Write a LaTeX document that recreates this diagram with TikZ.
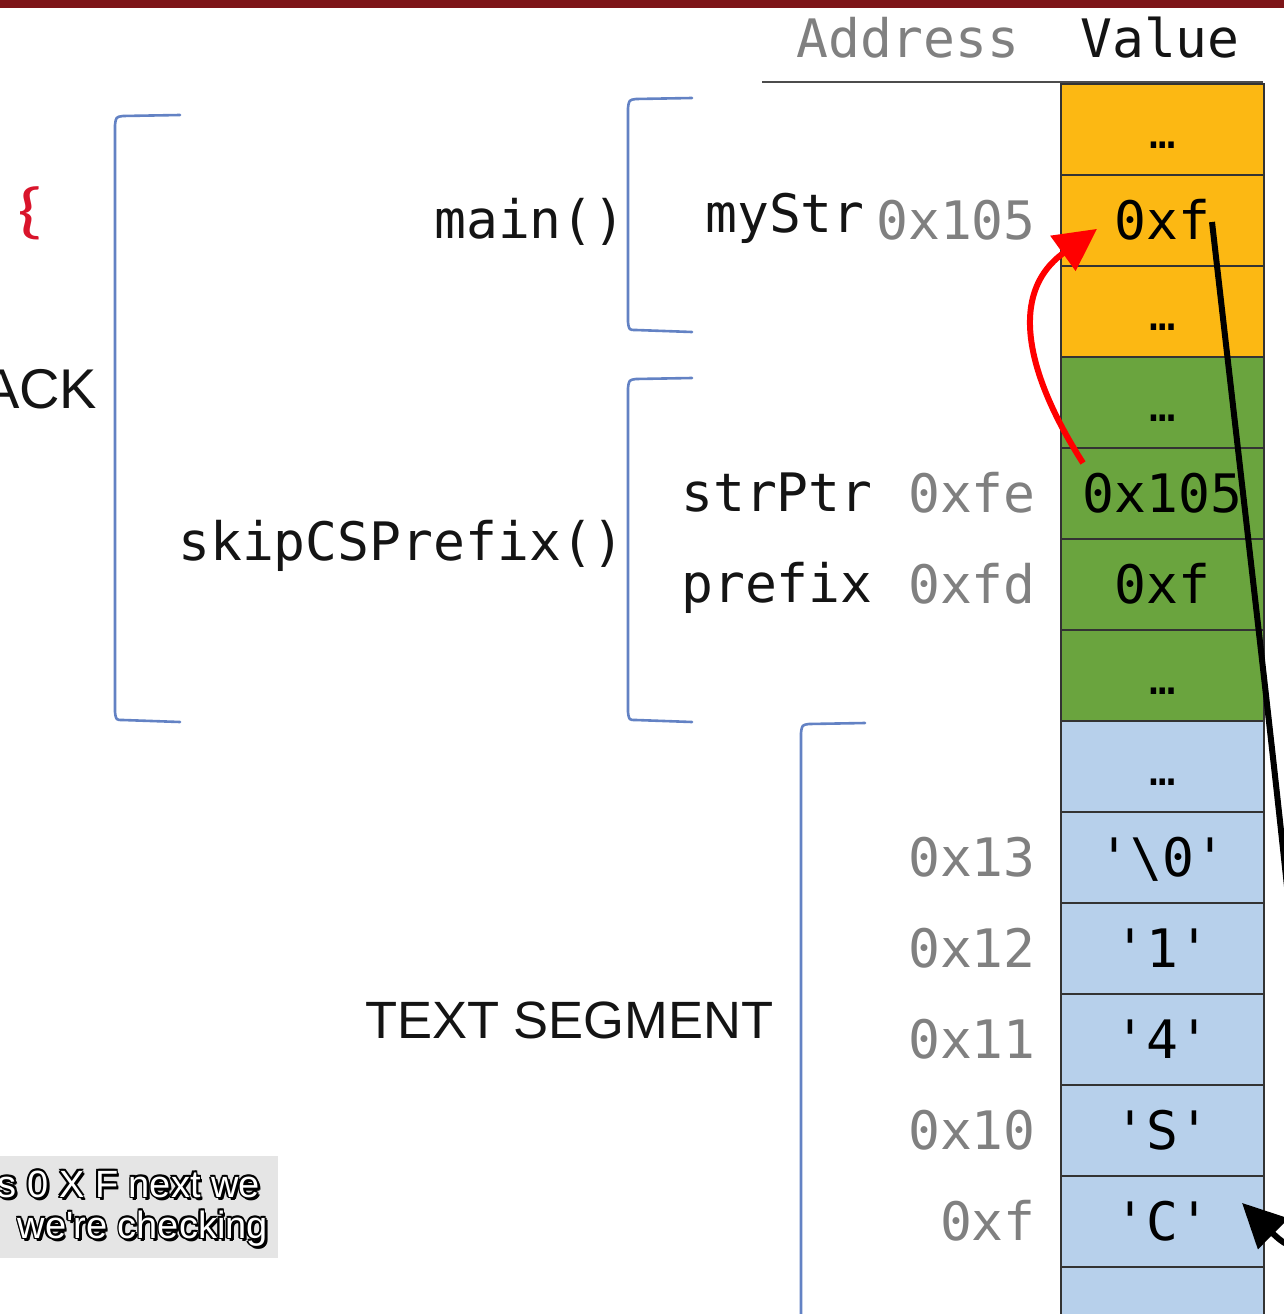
\documentclass[tikz,border=0pt]{standalone}
\usepackage{fontspec}
\newfontfamily\monof{DejaVu Sans Mono}
\newfontfamily\sansf{Liberation Sans}
\newfontfamily\bracef{Carlito}
\usetikzlibrary{arrows.meta}
\definecolor{barred}{HTML}{7D1518}
\definecolor{frameorange}{HTML}{FCB813}
\definecolor{framegreen}{HTML}{6AA43E}
\definecolor{segblue}{HTML}{B7D0EB}
\definecolor{brackblue}{HTML}{6382C4}
\definecolor{addrgray}{HTML}{808080}
\definecolor{bracered}{HTML}{D9142B}
\definecolor{capbox}{HTML}{E5E5E5}
\newcommand\chq[1]{\textquotesingle#1\textquotesingle}
\begin{document}
\begin{tikzpicture}[x=1pt,y=-1pt,
  mono/.style={font=\monof\fontsize{53}{60}\selectfont, text height=38pt, text depth=0pt, inner sep=0pt},
  cell/.style={mono, draw=black!80, line width=1.8pt, minimum width=203pt, minimum height=91pt, anchor=north west},
  ocell/.style={cell, fill=frameorange},
  gcell/.style={cell, fill=framegreen},
  bcell/.style={cell, fill=segblue},
  addr/.style={mono, text=addrgray, anchor=east},
  var/.style={mono, text=black!92, anchor=west},
  head/.style={mono, anchor=west},
  bracket/.style={draw=brackblue, line width=2.6pt, line cap=round, line join=round},
  bigsans/.style={font=\sansf\fontsize{#1}{#1}\selectfont, inner sep=0pt, anchor=base west, text=black!92},
  subtext/.style={font=\sansf\fontsize{38}{44}\selectfont, inner sep=0pt, anchor=base east},
  redptr/.style={draw=red, line width=6pt, -{Triangle[length=42pt,width=42pt]}},
  blackptr/.style={draw=black, line width=6pt, -{Triangle[length=44pt,width=42pt]}}
]
\useasboundingbox (0,0) rectangle (1284,1314);
\clip (0,0) rectangle (1284,1314);

% title bar
\fill[barred] (0,0) rectangle (1284,8);

% column headings
\node[head, text=addrgray] (hAddr) at (796,38.5) {Address};
\node[head, text=black!92] (hVal) at (1080,38.5) {Value};
\draw[black!70, line width=2.6pt] (762,82) -- (1263,82);

% memory cells, top to bottom
\node[ocell] (c0)  at (1060,83)  {\fontsize{44}{50}\selectfont …};
\node[ocell] (c1)  at (1060,174) {0xf};
\node[ocell] (c2)  at (1060,265) {\fontsize{44}{50}\selectfont …};
\node[gcell] (c3)  at (1060,356) {\fontsize{44}{50}\selectfont …};
\node[gcell] (c4)  at (1060,447) {0x105};
\node[gcell] (c5)  at (1060,538) {0xf};
\node[gcell] (c6)  at (1060,629) {\fontsize{44}{50}\selectfont …};
\node[bcell] (c7)  at (1060,720) {\fontsize{44}{50}\selectfont …};
\node[bcell] (c8)  at (1060,811) {\chq{\textbackslash 0}};
\node[bcell] (c9)  at (1060,902) {\chq{1}};
\node[bcell] (c10) at (1060,993) {\chq{4}};
\node[bcell] (c11) at (1060,1084) {\chq{S}};
\node[bcell] (c12) at (1060,1175) {\chq{C}};
\node[bcell] (c13) at (1060,1266) {};

% addresses
\node[addr] (a1)  at ([xshift=-24pt]c1.west)  {0x105};
\node[addr] (a4)  at ([xshift=-24pt]c4.west)  {0xfe};
\node[addr] (a5)  at ([xshift=-24pt]c5.west)  {0xfd};
\node[addr] (a8)  at ([xshift=-24pt]c8.west)  {0x13};
\node[addr] (a9)  at ([xshift=-24pt]c9.west)  {0x12};
\node[addr] (a10) at ([xshift=-24pt]c10.west) {0x11};
\node[addr] (a11) at ([xshift=-24pt]c11.west) {0x10};
\node[addr] (a12) at ([xshift=-24pt]c12.west) {0xf};

% variable names and frames
\node[var] (vMyStr)  at (705,213)   {myStr};
\node[var] (vStrPtr) at (681,492.5) {strPtr};
\node[var] (vPrefix) at (681,583.5) {prefix};
\node[var] (fMain)   at (434,219)   {main()};
\node[var] (fSkip)   at (178,541)   {skipCSPrefix()};

% segment labels
\node[bigsans=56] (lStack) at (-18,408) {ACK};
\node[bigsans=52.5] (lText) at (365,1038) {TEXT SEGMENT};
\node[text=bracered, font=\bracef\fontsize{62}{66}\selectfont, inner sep=0pt, xscale=1.35] (brace) at (31,213) {\{};

% brackets
\draw[bracket] (180,115) -- (123,116) .. controls (116,117) .. (115,125) -- (115,712) .. controls (116,720) .. (123,720) -- (180,722);
\draw[bracket] (692,98) -- (636,99) .. controls (629,100) .. (628,108) -- (628,322) .. controls (629,330) .. (636,330) -- (692,332);
\draw[bracket] (692,378) -- (636,379) .. controls (629,380) .. (628,388) -- (628,712) .. controls (629,720) .. (636,720) -- (692,722);
\draw[bracket] (865,723) -- (809,724) .. controls (802,725) .. (801,733) -- (801,1330);

% pointers
\coordinate (rs) at ([shift={(23,16)}]c4.north west);
\coordinate (rt) at ([shift={(37,8.5)}]c1.west);
\draw[redptr] (rs) .. controls (1030,380) and (1005,295) .. (rt);
\coordinate (bs) at ([shift={(152,48)}]c1.north west);
\coordinate (bt) at ([shift={(182,-18.5)}]c12.west);
\draw[blackptr] (bs) .. controls (1315,1125) and (1340,1300) .. (bt);

% caption box
\fill[capbox] (0,1156) rectangle (278,1258);
\foreach \dx/\dy [count=\k] in {2.8/2.8, 2/3.2, -1.6/0, 1.6/0, 0/-1.6, 0/1.6, -1.2/-1.2, 1.2/1.2, -1.2/1.2, 1.2/-1.2} {
  \node[subtext, text=black] (capA\k) at (260+\dx,1197+\dy) {s 0 X F next we};
  \node[subtext, text=black] (capB\k) at (268+\dx,1238+\dy) {we're checking};
}
\node[subtext, text=white] (capA) at (260,1197) {s 0 X F next we};
\node[subtext, text=white] (capB) at (268,1238) {we're checking};
\end{tikzpicture}
\end{document}
